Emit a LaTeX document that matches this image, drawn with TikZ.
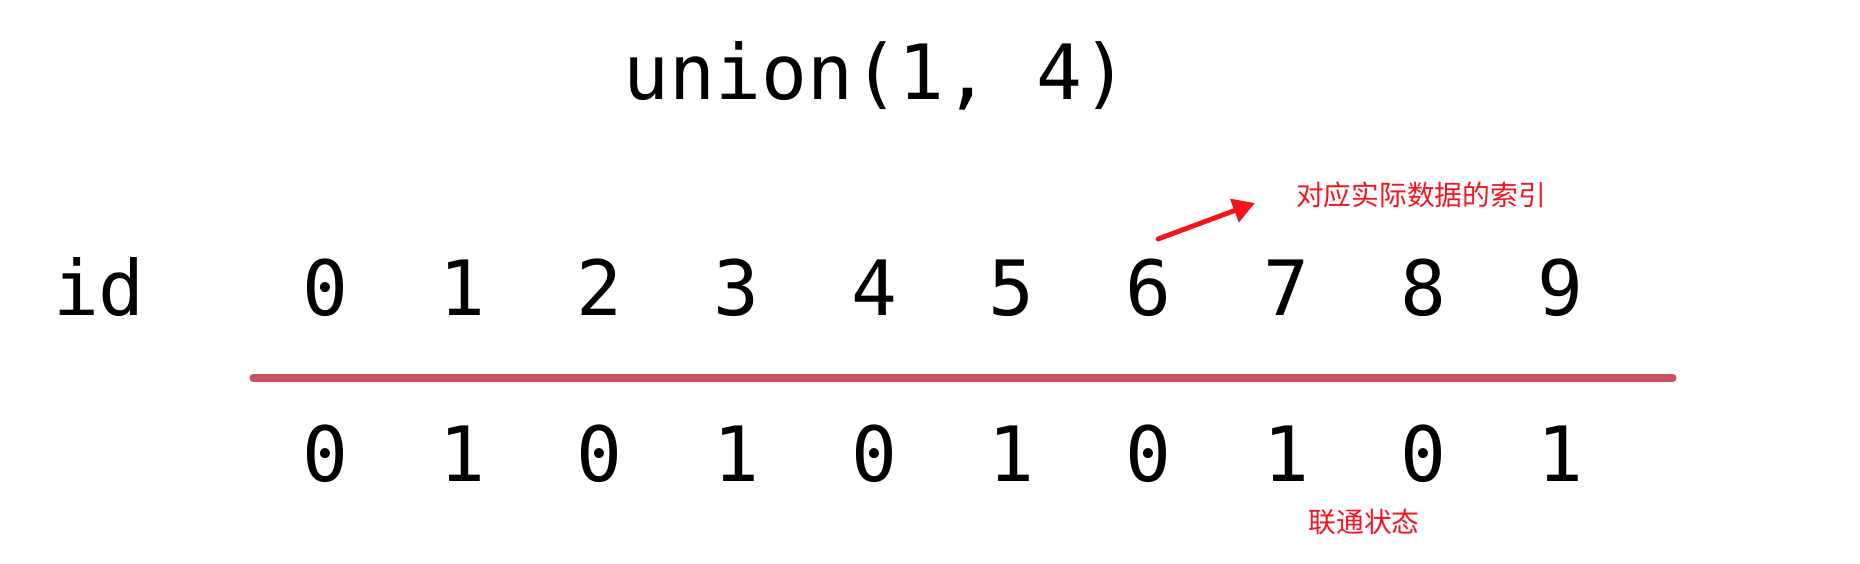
\documentclass[tikz,border=0pt]{standalone}
\usepackage{fontspec}
\setmonofont{DejaVu Sans Mono}
\newfontfamily\cjk{Noto Sans CJK SC}
\usetikzlibrary{arrows.meta}

\begin{document}
\begin{tikzpicture}[>={Triangle[length=2.2mm,width=2.4mm]}]

\definecolor{rulered}{RGB}{201,82,96}
\definecolor{notered}{RGB}{245,20,30}

\useasboundingbox (0,0) rectangle (18.6,5.64);

\tikzset{num/.style={font=\ttfamily\fontsize{21.7}{26}\selectfont,anchor=base,inner sep=0pt},
note/.style={font=\cjk\fontsize{7.9}{10}\selectfont,text=notered,inner sep=0pt}}

\node[num] (title) at (8.76,4.64) {union(1, 4)};
\node[num] (lbl) at (0.99,2.48) {id};

\foreach \i in {0,...,9}{
\pgfmathsetmacro\x{3.25+1.373*\i}
\pgfmathtruncatemacro\v{mod(\i,2)}
\node[num] (a\i) at (\x,2.48) {\i};
\node[num] (b\i) at (\x,0.82) {\v};
}

\draw[line width=2pt,color=rulered,line cap=round] (2.53,1.86)--(16.73,1.86);

\node[note] (idx) at (14.21,3.69) {对应实际数据的索引};
\node[note] (conn) at (13.64,0.42) {联通状态};

\coordinate (tail) at (11.58,3.25);
\coordinate (tip) at (12.55,3.61);
\draw[->,line width=1.4pt,color=notered,line cap=round] (tail)--(tip);

\end{tikzpicture}
\end{document}
